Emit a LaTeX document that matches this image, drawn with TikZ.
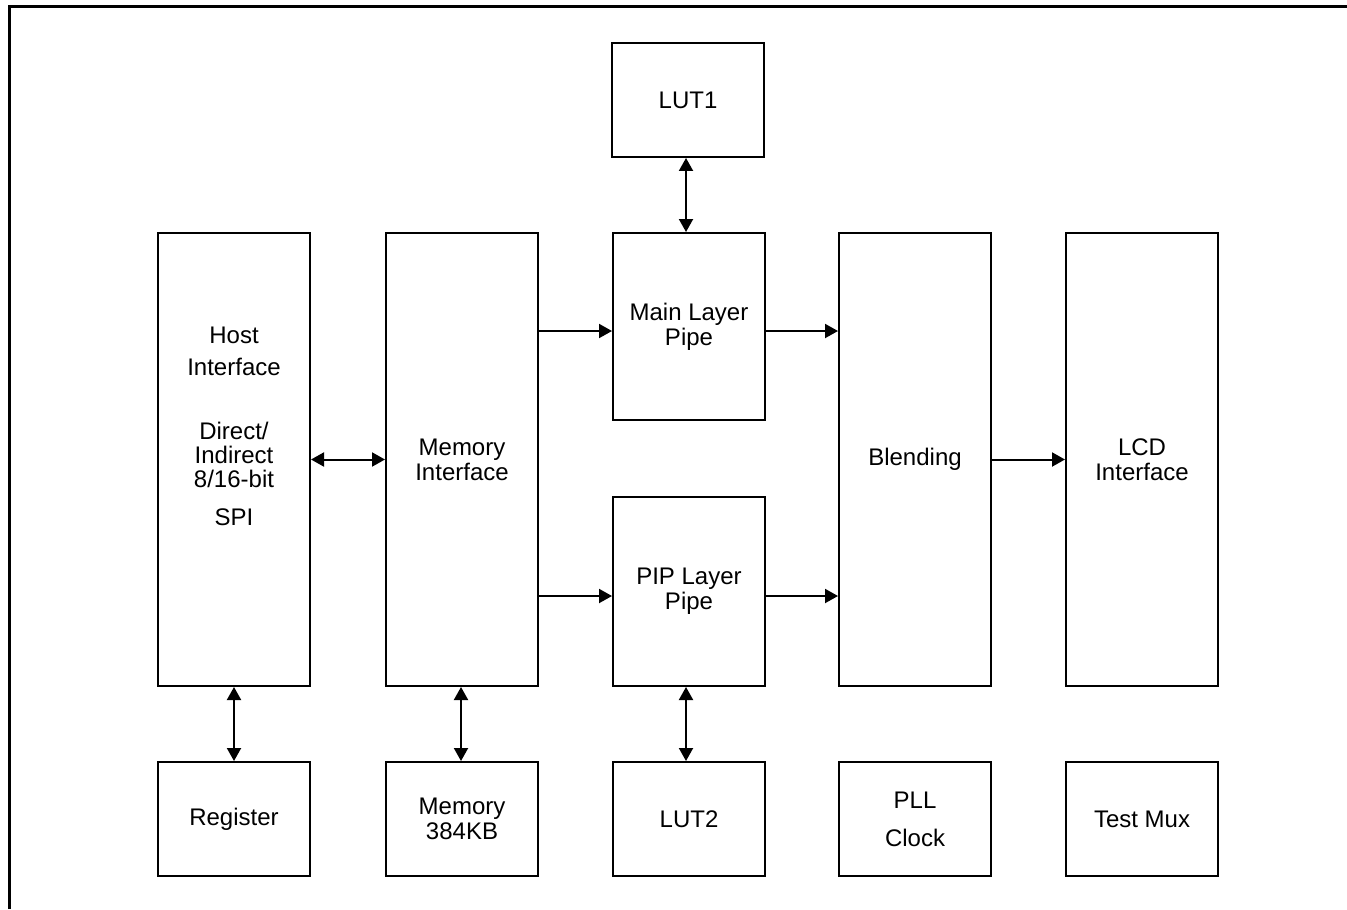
\documentclass[tikz,border=0pt]{standalone}
\usepackage{fontspec}
\setmainfont{Liberation Sans}
\usetikzlibrary{arrows.meta}

\begin{document}
\begin{tikzpicture}[x=0.5pt,y=-0.5pt,
  blk/.style={draw=black,line width=1pt,minimum width=76pt,inner sep=0pt,align=center,font=\fontsize{12}{12.5}\selectfont},
  tall/.style={blk,minimum height=226.5pt},
  small/.style={blk,minimum height=57pt},
  conn/.style={line width=1pt,-{Triangle[length=6.5pt,width=7pt]}},
  biconn/.style={line width=1pt,{Triangle[length=6.5pt,width=7pt]}-{Triangle[length=6.5pt,width=7pt]}}]
\useasboundingbox (0,0) rectangle (1347,909);
\draw [line width=1.5pt] (9.5,909) -- (9.5,7) -- (1347,7);
\node [small] (lut1) at (688,100) {LUT1};
\node [tall] (host) at (234,459.5) {};
\node [align=center,font=\fontsize{12}{12}\selectfont] (hosttext) at (234,426) {Host\\[4pt]Interface\\[20pt]Direct/\\Indirect\\8/16-bit\\[7pt]SPI};
\node [tall] (meminf) at (462,459.5) {Memory\\Interface};
\node [blk,minimum height=93.5pt] (mainpipe) at (689,326.5) {Main Layer\\Pipe};
\node [blk,minimum height=94.5pt] (pippipe) at (689,591.5) {PIP Layer\\Pipe};
\node [tall] (blend) at (915,459.5) {Blending};
\node [tall] (lcd) at (1142,459.5) {LCD\\Interface};
\node [small] (reg) at (234,819) {Register};
\node [small] (mem) at (462,819) {Memory\\384KB};
\node [small] (lut2) at (689,819) {LUT2};
\node [small] (pll) at (915,819) {PLL\\[6.5pt]Clock};
\node [small] (tmux) at (1142,819) {Test Mux};
\draw [biconn] (host.east) -- (meminf.west);
\draw [conn] (meminf.east |- 0,331) -- (mainpipe.west |- 0,331);
\draw [conn] (meminf.east |- 0,596) -- (pippipe.west |- 0,596);
\draw [conn] (mainpipe.east |- 0,331) -- (blend.west |- 0,331);
\draw [conn] (pippipe.east |- 0,596) -- (blend.west |- 0,596);
\draw [conn] (blend.east) -- (lcd.west);
\draw [biconn] (lut1.south -| 686,0) -- (mainpipe.north -| 686,0);
\draw [biconn] (host.south) -- (reg.north);
\draw [biconn] (meminf.south -| 461,0) -- (mem.north -| 461,0);
\draw [biconn] (pippipe.south -| 686,0) -- (lut2.north -| 686,0);
\end{tikzpicture}
\end{document}
